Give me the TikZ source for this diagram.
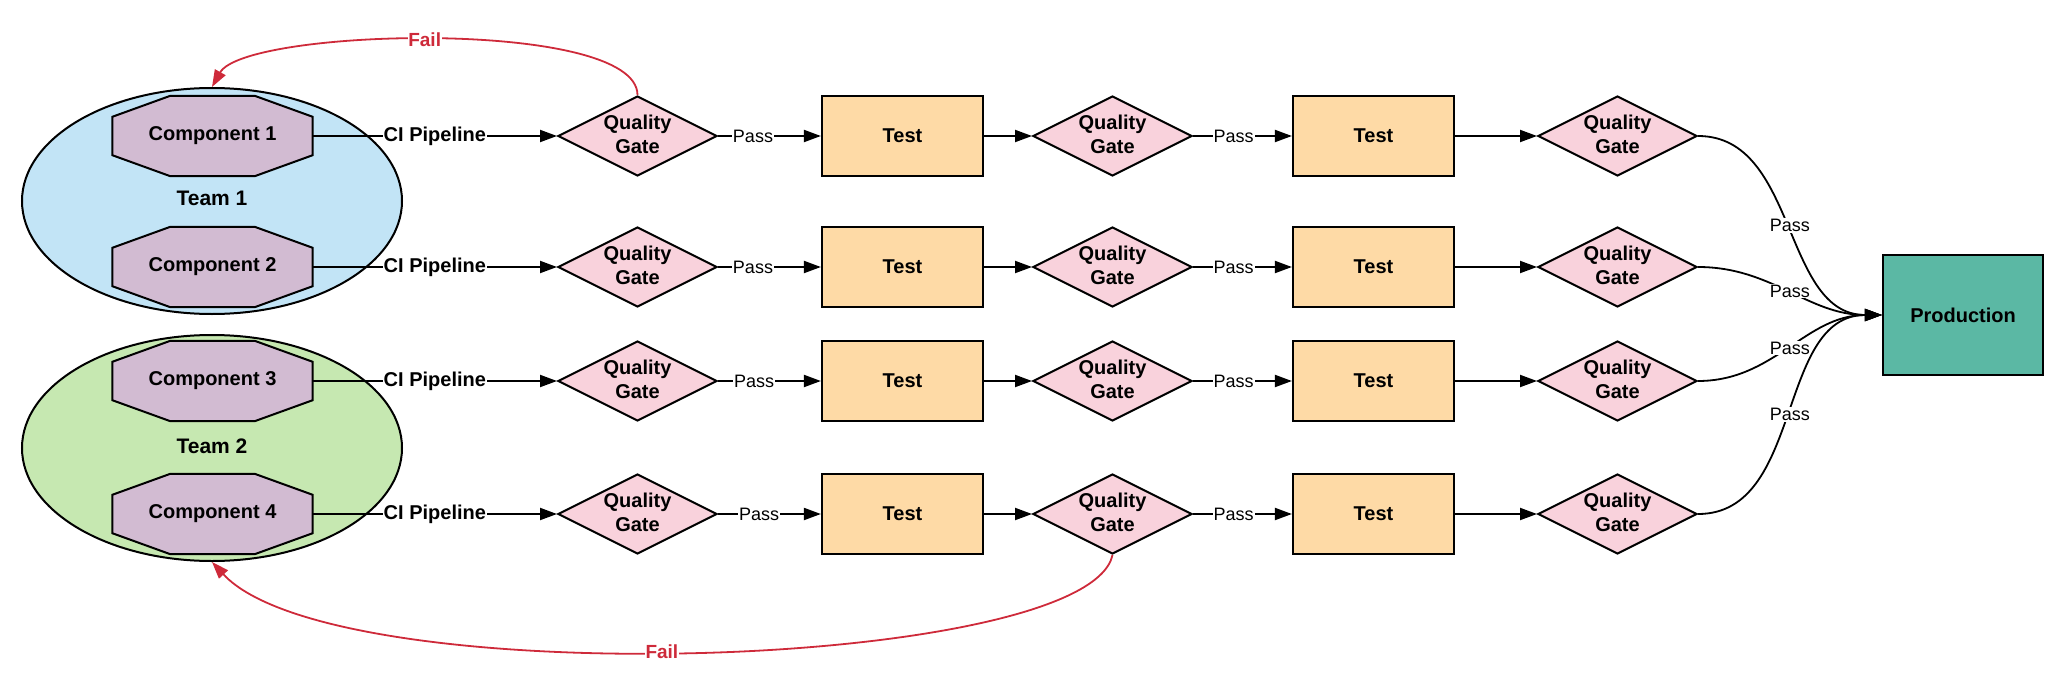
\documentclass[tikz,border=0pt]{standalone}
\usepackage{fontspec}
\setmainfont{Liberation Sans}
\usetikzlibrary{shapes.geometric,arrows.meta,calc}
\definecolor{teamonecol}{HTML}{C2E4F6}
\definecolor{teamtwocol}{HTML}{C6E8B1}
\definecolor{compcol}{HTML}{D2BBD2}
\definecolor{gatecol}{HTML}{F9D2DC}
\definecolor{testcol}{HTML}{FEDAA6}
\definecolor{prodcol}{HTML}{5BB8A4}
\definecolor{failred}{HTML}{CE2A3A}
\pgfdeclarelayer{back}
\pgfdeclarelayer{mid}
\pgfsetlayers{back,mid,main}
\newcommand\octoshape[1]{%
  \draw[octline] ($(#1.north west)+(58,0)$) -- ($(#1.north east)+(-58,0)$)
    -- ($(#1.north east)+(0,21)$) -- ($(#1.south east)+(0,-21)$)
    -- ($(#1.south east)+(-58,0)$) -- ($(#1.south west)+(58,0)$)
    -- ($(#1.south west)+(0,-21)$) -- ($(#1.north west)+(0,21)$) -- cycle;}
\begin{document}
\begin{tikzpicture}[x=1pt,y=-1pt,
  boldtext/.style={font=\bfseries\fontsize{20}{24}\selectfont},
  team/.style={ellipse, draw, line width=2pt, minimum width=380pt, minimum height=226pt, inner sep=0pt},
  teamlabel/.style={font=\bfseries\fontsize{21}{25}\selectfont},
  comp/.style={boldtext, minimum width=200pt, minimum height=80pt, inner sep=0pt},
  octline/.style={draw, line width=2pt, fill=compcol, line join=miter},
  gate/.style={diamond, aspect=2, draw, line width=2pt, fill=gatecol, minimum width=159pt, minimum height=80pt, inner sep=0pt, align=center, text depth=3.5pt, boldtext},
  testbox/.style={rectangle, draw, line width=2.2pt, fill=testcol, minimum width=161pt, minimum height=80pt, boldtext},
  prodbox/.style={rectangle, draw, line width=2.2pt, fill=prodcol, minimum width=160pt, minimum height=120pt, boldtext},
  flow/.style={line width=2pt, -{Triangle[length=17pt,width=12pt]}},
  curveflow/.style={line width=1.8pt, -{Triangle[length=17pt,width=12pt]}},
  lbl/.style={fill=white, inner sep=1pt, font=\fontsize{18}{20}\selectfont},
  cilbl/.style={fill=white, inner sep=1pt, boldtext},
  failflow/.style={draw=failred, line width=1.8pt, -{Triangle[length=17pt,width=12pt]}},
  faillbl/.style={fill=white, text=failred, inner sep=0.5pt, font=\bfseries\fontsize{19}{22}\selectfont}
]
\useasboundingbox (0,0) rectangle (2071,682);

\begin{pgfonlayer}{back}
  \node[team, fill=teamonecol] (team1) at (212,201) {};
  \node[team, fill=teamtwocol] (team2) at (212,448) {};
\end{pgfonlayer}
\node[teamlabel] (t1lab) at (212,198) {Team 1};
\node[teamlabel] (t2lab) at (212,446) {Team 2};

\node[prodbox] (prod) at (1963,315) {Production};

\foreach \r/\y/\pa/\pb in {1/136/0.34/0.41, 2/267/0.34/0.41, 3/381/0.35/0.41, 4/514/0.40/0.41} {
  \node[comp] (comp\r) at (212.5,\y) {Component \r};
  \begin{pgfonlayer}{mid}
    \octoshape{comp\r}
  \end{pgfonlayer}
  \node[gate] (qa\r) at (637.5,\y) {Quality\\Gate};
  \node[testbox] (ta\r) at (902.5,\y) {Test};
  \node[gate] (qb\r) at (1112.5,\y) {Quality\\Gate};
  \node[testbox] (tb\r) at (1373.5,\y) {Test};
  \node[gate] (qc\r) at (1617.5,\y) {Quality\\Gate};
  \draw[flow] (comp\r.east) -- node[cilbl, pos=0.5] {CI Pipeline} (qa\r.west);
  \draw[flow] (qa\r.east) -- node[lbl, pos=\pa] {Pass} (ta\r.west);
  \draw[flow] (ta\r.east) -- (qb\r.west);
  \draw[flow] (qb\r.east) -- node[lbl, pos=\pb] {Pass} (tb\r.west);
  \draw[flow] (tb\r.east) -- (qc\r.west);
  \draw[curveflow] (qc\r.east) to[out=0,in=180] node[lbl] {Pass} (prod.west);
}

\draw[failflow] (qa1.north) .. controls (637,18) and (245,28) .. node[faillbl, pos=0.52] {Fail} (team1.north);
\draw[failflow] (qb4.south) .. controls (1088,670) and (335,695) .. node[faillbl, pos=0.53] {Fail} (team2.south);
\end{tikzpicture}
\end{document}
